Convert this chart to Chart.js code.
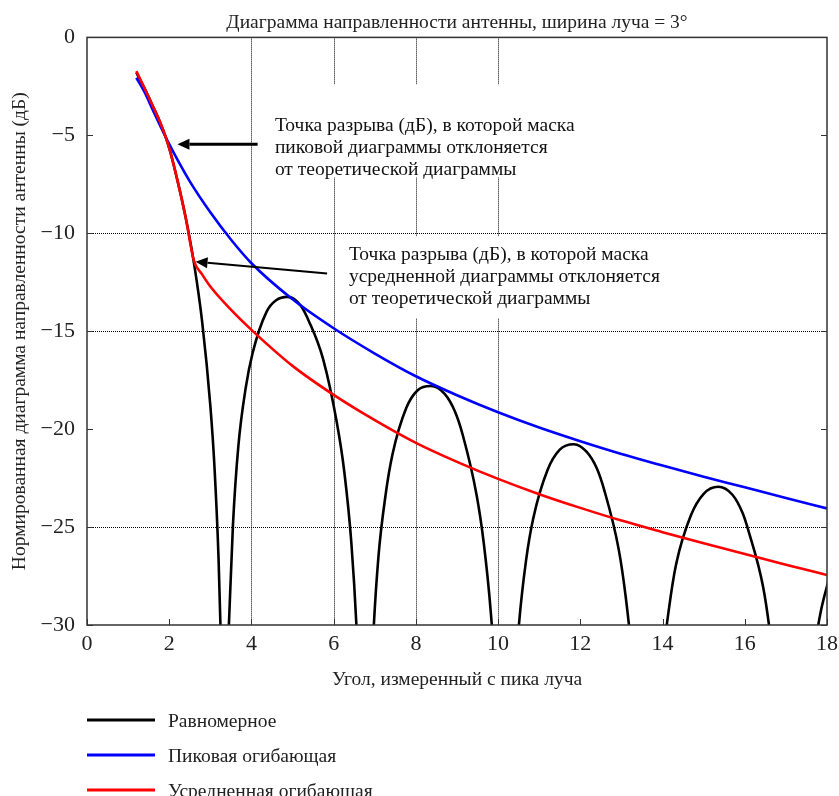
<!DOCTYPE html>
<html>
<head>
<meta charset="utf-8">
<script src="https://cdn.jsdelivr.net/npm/chart.js@4.4.1/dist/chart.umd.min.js"></script>
<style>
  html, body { margin: 0; padding: 0; background: #fff; }
</style>
</head>
<body>
<canvas id="antennaChart" width="839" height="796"></canvas>
<script>
// Angle from beam peak (deg) and normalised level (dB)
const uniformX = [1.2, 1.4, 1.6, 1.8, 2.0, 2.2, 2.4, 2.6, 2.8, 3.0, 3.1, 3.2, 3.25, 3.3,
  3.44, 3.55, 3.68, 3.86, 4.03, 4.37, 4.6, 4.88, 5.2, 5.4, 5.74, 6.08, 6.26, 6.43, 6.56, 6.67,
  6.85, 6.96, 7.09, 7.26, 7.43, 7.77, 8.05, 8.36, 8.7, 8.95, 9.14, 9.48, 9.65, 9.82, 9.96, 10.06,
  10.26, 10.37, 10.51, 10.68, 10.85, 11.2, 11.5, 11.84, 12.15, 12.4, 12.58, 12.93, 13.1, 13.27, 13.41, 13.52,
  13.74, 13.84, 13.98, 14.16, 14.33, 14.69, 15.0, 15.35, 15.7, 15.95, 16.09, 16.45, 16.62, 16.8, 16.94, 17.04,
  17.26, 17.36, 17.5, 17.68, 17.86, 18.04];
const uniformY = [-1.8, -2.6, -3.5, -4.45, -5.65, -7.3, -9.2, -11.5, -14.5, -18.8, -21.9, -26.6, -30.3, -36.4,
  -30.6, -24.9, -20.9, -17.9, -16.1, -14.0, -13.42, -13.25, -13.7, -14.5, -16.4, -19.7, -22.2, -25.8, -30.3, -36.4,
  -36.5, -30.7, -26.5, -23.4, -21.3, -18.9, -18.0, -17.8, -18.2, -19.1, -20.3, -23.4, -25.8, -29.3, -33.8, -39.9,
  -40.0, -34.1, -29.9, -26.7, -24.6, -22.1, -21.05, -20.77, -21.15, -22.0, -23.1, -26.1, -28.5, -31.9, -36.4, -42.4,
  -42.5, -36.6, -32.3, -29.1, -26.9, -24.4, -23.3, -22.94, -23.35, -24.3, -25.2, -28.1, -30.5, -33.9, -38.3, -44.4,
  -44.8, -38.9, -34.6, -31.4, -29.2, -27.7];

const peakX = [1.2, 1.4, 1.6, 1.8, 2.0, 2.2, 2.5, 3, 3.5, 4, 5, 6, 7, 8, 9, 10, 11, 12, 13, 14, 15, 16, 17, 18];
const peakY = [-2.06, -2.8, -3.7, -4.6, -5.45, -6.24, -7.35, -8.93, -10.32, -11.53, -13.37, -14.85, -16.14, -17.3,
  -18.27, -19.14, -19.92, -20.62, -21.27, -21.86, -22.43, -22.97, -23.52, -24.05];

const avgX = [1.2, 1.4, 1.6, 1.8, 2.0, 2.2, 2.4, 2.6, 2.8, 3.0, 3.5, 4, 5, 6, 7, 8, 9, 10, 11, 12, 13, 14, 15, 16, 17, 18];
const avgY = [-1.72, -2.6, -3.5, -4.45, -5.65, -7.3, -9.2, -11.4, -12.1, -12.72, -13.9, -14.93, -16.77, -18.25, -19.54,
  -20.7, -21.67, -22.54, -23.32, -24.02, -24.67, -25.26, -25.83, -26.37, -26.92, -27.45];

const seriesLabels = ['Равномерное', 'Пиковая огибающая', 'Усредненная огибающая'];
const seriesColors = ['#000000', '#0000ff', '#ff0000'];

// dotted grid lines that show in the original
const gridX = [4, 6, 8, 10];
const gridY = [-10, -15, -25];

// call-outs: text anchor and arrow (from -> to) in data units
const notes = [
  { x: 4.57, y: -4.54, lines: ['Точка разрыва (дБ), в которой маска', 'пиковой диаграммы отклоняется', 'от теоретической диаграммы'],
    from: [4.15, -5.45], to: [2.2, -5.45], width: 3 },
  { x: 6.37, y: -11.12, lines: ['Точка разрыва (дБ), в которой маска', 'усредненной диаграммы отклоняется', 'от теоретической диаграммы'],
    from: [5.84, -12.05], to: [2.64, -11.45], width: 2 }
];

const serif = "'Liberation Serif', 'Times New Roman', serif";
const textColor = '#222';
const textSize = 19.5;

function toPoints(xs, ys) {
  return xs.map((x, i) => ({ x: x, y: ys[i] }));
}

function minus(v) {
  return String(v).replace('-', '\u2212');
}

function noteBoxes(chart) {
  const { ctx, scales } = chart;
  ctx.save();
  ctx.font = textSize + 'px ' + serif;
  const boxes = notes.map(n => {
    const x0 = scales.x.getPixelForValue(n.x);
    const y0 = scales.y.getPixelForValue(n.y);
    const w = Math.max(...n.lines.map(l => ctx.measureText(l).width));
    return { x0: x0, y0: y0, w: w };
  });
  ctx.restore();
  return boxes;
}

const decorations = {
  id: 'decorations',
  beforeDatasetsDraw(chart) {
    const { ctx, chartArea, scales } = chart;
    ctx.save();
    // grid
    ctx.strokeStyle = '#000';
    ctx.lineWidth = 1;
    ctx.setLineDash([1, 1]);
    gridX.forEach(v => {
      const px = Math.round(scales.x.getPixelForValue(v)) + 0.5;
      ctx.beginPath();
      ctx.moveTo(px, chartArea.top);
      ctx.lineTo(px, chartArea.bottom);
      ctx.stroke();
    });
    gridY.forEach(v => {
      const py = Math.round(scales.y.getPixelForValue(v)) + 0.5;
      ctx.beginPath();
      ctx.moveTo(chartArea.left, py);
      ctx.lineTo(chartArea.right, py);
      ctx.stroke();
    });
    ctx.setLineDash([]);
    // white panels behind call-out texts
    ctx.fillStyle = '#fff';
    noteBoxes(chart).forEach((b, i) => {
      const top = i === 0 ? b.y0 - 42 : b.y0 - 19;
      const bottom = i === 0 ? b.y0 + 51 : b.y0 + 63;
      ctx.fillRect(b.x0 - 12, top, b.w + 8, bottom - top);
    });
    ctx.restore();
  },
  afterDatasetsDraw(chart) {
    const { ctx, chartArea, scales } = chart;
    ctx.save();
    // frame
    ctx.strokeStyle = '#333';
    ctx.lineWidth = 1.5;
    ctx.strokeRect(chartArea.left, chartArea.top, chartArea.right - chartArea.left, chartArea.bottom - chartArea.top);
    // inward tick marks (bottom, left, right)
    ctx.lineWidth = 1;
    scales.x.ticks.forEach(t => {
      const px = Math.round(scales.x.getPixelForValue(t.value)) + 0.5;
      ctx.beginPath();
      ctx.moveTo(px, chartArea.bottom);
      ctx.lineTo(px, chartArea.bottom - 6);
      ctx.stroke();
    });
    scales.y.ticks.forEach(t => {
      const py = Math.round(scales.y.getPixelForValue(t.value)) + 0.5;
      ctx.beginPath();
      ctx.moveTo(chartArea.left, py);
      ctx.lineTo(chartArea.left + 6, py);
      ctx.moveTo(chartArea.right, py);
      ctx.lineTo(chartArea.right - 6, py);
      ctx.stroke();
    });
    // call-out texts and arrows
    ctx.font = textSize + 'px ' + serif;
    ctx.textBaseline = 'middle';
    ctx.textAlign = 'left';
    notes.forEach(n => {
      const x0 = scales.x.getPixelForValue(n.x);
      const y0 = scales.y.getPixelForValue(n.y);
      ctx.fillStyle = '#111';
      n.lines.forEach((l, i) => ctx.fillText(l, x0, y0 + i * 22));

      const fx = scales.x.getPixelForValue(n.from[0]);
      const fy = scales.y.getPixelForValue(n.from[1]);
      const tx = scales.x.getPixelForValue(n.to[0]);
      const ty = scales.y.getPixelForValue(n.to[1]);
      const ang = Math.atan2(ty - fy, tx - fx);
      const headLen = 12, headHalf = 5.5;
      const bx = tx - headLen * Math.cos(ang);
      const by = ty - headLen * Math.sin(ang);
      ctx.strokeStyle = '#000';
      ctx.lineWidth = n.width;
      ctx.beginPath();
      ctx.moveTo(fx, fy);
      ctx.lineTo(bx, by);
      ctx.stroke();
      ctx.fillStyle = '#000';
      ctx.beginPath();
      ctx.moveTo(tx, ty);
      ctx.lineTo(bx + headHalf * Math.sin(ang), by - headHalf * Math.cos(ang));
      ctx.lineTo(bx - headHalf * Math.sin(ang), by + headHalf * Math.cos(ang));
      ctx.closePath();
      ctx.fill();
    });
    ctx.restore();
  },
  afterDraw(chart) {
    // legend: stacked lines under the x axis title
    const { ctx, chartArea } = chart;
    ctx.save();
    ctx.font = textSize + 'px ' + serif;
    ctx.textBaseline = 'middle';
    ctx.textAlign = 'left';
    chart.data.datasets.forEach((ds, i) => {
      const y = chartArea.bottom + 95 + i * 35;
      ctx.strokeStyle = ds.borderColor;
      ctx.lineWidth = 3;
      ctx.beginPath();
      ctx.moveTo(chartArea.left, y);
      ctx.lineTo(chartArea.left + 68, y);
      ctx.stroke();
      ctx.fillStyle = textColor;
      ctx.fillText(ds.label, chartArea.left + 81, y + 2);
    });
    ctx.restore();
  }
};

const ctx = document.getElementById('antennaChart').getContext('2d');
new Chart(ctx, {
  type: 'line',
  data: {
    datasets: [
      { label: seriesLabels[0], data: toPoints(uniformX, uniformY), borderColor: seriesColors[0], order: 3 },
      { label: seriesLabels[1], data: toPoints(peakX, peakY), borderColor: seriesColors[1], order: 2 },
      { label: seriesLabels[2], data: toPoints(avgX, avgY), borderColor: seriesColors[2], order: 1 }
    ]
  },
  options: {
    responsive: false,
    animation: false,
    devicePixelRatio: 1,
    layout: { padding: { left: 0, right: 12, top: 0, bottom: 81 } },
    elements: {
      line: { borderWidth: 2.6, cubicInterpolationMode: 'monotone', fill: false },
      point: { radius: 0, hoverRadius: 0 }
    },
    plugins: {
      legend: { display: false },
      tooltip: { enabled: false },
      title: {
        display: true,
        fullSize: false,
        text: 'Диаграмма направленности антенны, ширина луча = 3°',
        color: textColor,
        font: { family: serif, size: textSize, weight: 'normal' },
        padding: { top: 11, bottom: 3 }
      }
    },
    scales: {
      x: {
        type: 'linear',
        min: 0,
        max: 18,
        afterFit: s => { s.height = 90; s.paddingLeft = 0; s.paddingRight = 0; },
        grid: { display: false, drawTicks: false },
        border: { display: false },
        ticks: { stepSize: 2, padding: 6, color: textColor, font: { family: serif, size: 22 } },
        title: {
          display: true,
          text: 'Угол, измеренный с пика луча',
          color: textColor,
          font: { family: serif, size: textSize },
          padding: { top: 0, bottom: 23 }
        }
      },
      y: {
        type: 'linear',
        min: -30,
        max: 0,
        afterFit: s => { s.width = 87; s.paddingTop = 0; s.paddingBottom = 0; },
        grid: { display: false, drawTicks: false },
        border: { display: false },
        ticks: { stepSize: 5, padding: 12, color: textColor, font: { family: serif, size: 22 }, callback: v => minus(v) },
        title: {
          display: true,
          text: 'Нормированная диаграмма направленности антенны (дБ)',
          color: textColor,
          font: { family: serif, size: textSize },
          padding: { top: 8, bottom: 0 }
        }
      }
    }
  },
  plugins: [decorations]
});
</script>
</body>
</html>
